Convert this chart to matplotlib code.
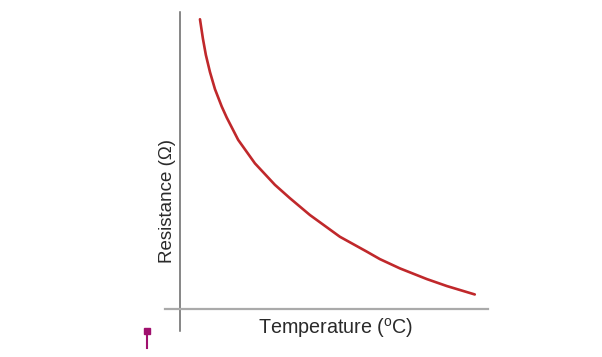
import matplotlib
matplotlib.use('Agg')
import matplotlib.pyplot as plt
from matplotlib.lines import Line2D

# values
temperature = [6.8, 7.8, 8.8, 10.2, 11.9, 14.2, 15.9, 19.8, 25.5, 32.3, 37.4, 44.2, 54.4, 63.5, 68.0, 74.8, 84.0, 90.8, 100.3]
resistance = [99.9, 93.2, 87.6, 81.7, 75.8, 69.8, 66.0, 58.3, 50.2, 42.8, 38.2, 32.4, 24.9, 19.8, 17.2, 14.0, 10.3, 7.9, 5.0]

xlabel = r'Temperature ($^{\mathrm{o}}$C)'
ylabel = 'Resistance (\u03a9)'

plt.rcParams['mathtext.fontset'] = 'custom'
plt.rcParams['mathtext.rm'] = 'Liberation Sans'

W, H = 602, 357
fig = plt.figure(figsize=(W / 100, H / 100), dpi=100)
fig.patch.set_facecolor('white')

# axes box in pixels: x 165..488, y 12..331
ax = fig.add_axes([165 / W, 1 - 331 / H, (488 - 165) / W, (331 - 12) / H])
ax.set_facecolor('none')

ax.plot(temperature, resistance, color='#c0282b', lw=1.9,
        solid_capstyle='round', solid_joinstyle='round')

ax.set_xlim(-5.1, 104.8)
ax.set_ylim(-7.6, 102.4)

for s in ['top', 'right']:
    ax.spines[s].set_visible(False)
ax.spines['left'].set_position(('data', 0))
ax.spines['bottom'].set_position(('data', 0))
ax.spines['left'].set_color('#666666')
ax.spines['left'].set_linewidth(1.1)
ax.spines['bottom'].set_color('#aaaaaa')
ax.spines['bottom'].set_linewidth(1.6)
ax.set_xticks([])
ax.set_yticks([])

fig.text(335.5 / W, 1 - 328 / H, xlabel, ha='center', va='center',
         fontsize=14.2, color='#2a2a2a', family='Liberation Sans')
fig.text(167 / W, 1 - 201 / H, ylabel, ha='center', va='center', rotation=90,
         fontsize=13.5, color='#2a2a2a', family='Liberation Sans')

# small magenta marker at lower left
mark = Line2D([147 / W, 147 / W], [1 - 348 / H, 1 - 331 / H], transform=fig.transFigure,
              color='#a0106e', lw=1.5, marker='s', markersize=4.5, markevery=[1])
fig.add_artist(mark)

fig.savefig('out.png', dpi=100)
